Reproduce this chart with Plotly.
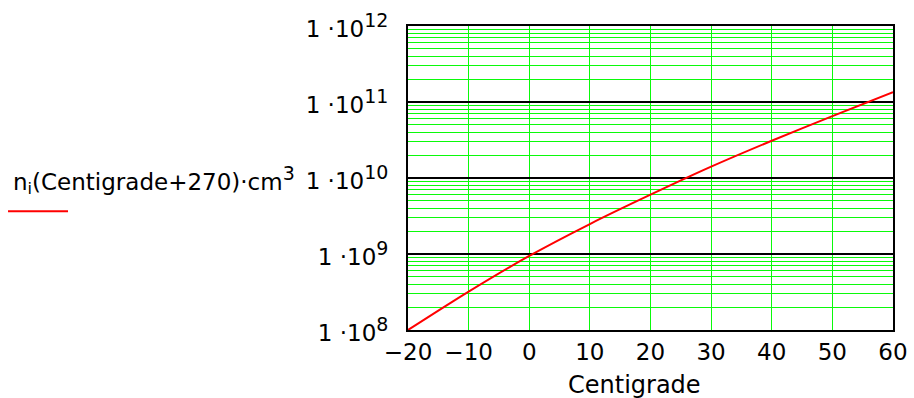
import plotly.graph_objects as go

# Data
centigrade = [-20, -10, 0, 10, 20, 30, 40, 50, 60]
ni_cm3 = [1.0e8, 3.2e8, 9.44e8, 2.48e9, 6.03e9, 1.41e10, 3.09e10, 6.53e10, 1.35e11]

x_ticks = [-20, -10, 0, 10, 20, 30, 40, 50, 60]
y_ticks = [1e8, 1e9, 1e10, 1e11, 1e12]
y_exponents = ["8", "9", "10", "11", "12"]
y_minor = [m * 10 ** d for d in range(8, 12) for m in range(2, 10)]

FONT = "DejaVu Sans"
FS_TICK = 23
FS_TEXT = 24
GREEN = "rgb(10,250,10)"

y_ticktext = ["1 \u00b710<sup><span style='font-size:19px'>%s</span></sup>" % e for e in y_exponents]

fig = go.Figure()
fig.add_trace(go.Scatter(
    x=centigrade, y=ni_cm3, mode="lines",
    line=dict(color="red", width=2, shape="spline", smoothing=0.8),
    showlegend=False, hoverinfo="skip",
))

fig.update_layout(
    width=914, height=398,
    margin=dict(l=408, r=21, t=26, b=68, autoexpand=False),
    paper_bgcolor="white", plot_bgcolor="white",
    font=dict(family=FONT, size=FS_TICK, color="black"),
    xaxis=dict(
        range=[-20, 60], tickvals=x_ticks, showgrid=True, gridcolor=GREEN, gridwidth=1,
        zeroline=False, showline=True, mirror=True, linecolor="black", linewidth=2,
        ticks="", ticklabelstandoff=0, automargin=False, tickfont=dict(family=FONT, size=FS_TICK),
    ),
    yaxis=dict(
        type="log", range=[8, 12], tickvals=y_ticks, ticktext=y_ticktext,
        showgrid=True, gridcolor="black", gridwidth=2,
        minor=dict(tickvals=y_minor, showgrid=True, gridcolor=GREEN, gridwidth=1, ticks=""),
        zeroline=False, showline=True, mirror=True, linecolor="black", linewidth=2,
        ticks="", ticklabelstandoff=13, ticklabelshift=3, automargin=False,
        tickfont=dict(family=FONT, size=FS_TICK),
    ),
    annotations=[
        dict(text="Centigrade", xref="paper", yref="paper", x=0.466, y=-0.18,
             xanchor="center", yanchor="middle", showarrow=False,
             font=dict(family=FONT, size=FS_TEXT)),
        dict(text="n<sub>i</sub>(Centigrade+270)\u00b7cm<sup><span style='font-size:19px'>3</span></sup>",
             xref="paper", yref="paper",
             x=-0.818, y=0.495, xanchor="left", yanchor="middle", showarrow=False,
             font=dict(family=FONT, size=23)),
    ],
    shapes=[
        dict(type="line", xref="paper", yref="paper", x0=-0.8247, x1=-0.701,
             y0=0.391, y1=0.391, line=dict(color="red", width=2)),
    ],
)

fig.write_html("out.html")
